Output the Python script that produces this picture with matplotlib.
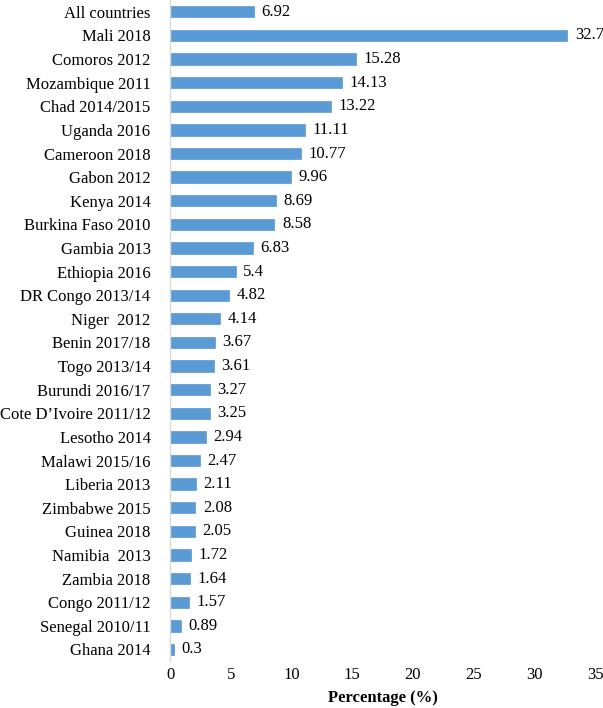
import matplotlib.pyplot as plt
import numpy as np

plt.rcParams['font.family'] = ['Liberation Serif', 'DejaVu Serif']

countries = ['All countries', 'Mali 2018', 'Comoros 2012', 'Mozambique 2011',
             'Chad 2014/2015', 'Uganda 2016', 'Cameroon 2018', 'Gabon 2012',
             'Kenya 2014', 'Burkina Faso 2010', 'Gambia 2013', 'Ethiopia 2016',
             'DR Congo 2013/14', 'Niger  2012', 'Benin 2017/18', 'Togo 2013/14',
             'Burundi 2016/17', 'Cote D\u2019Ivoire 2011/12', 'Lesotho 2014',
             'Malawi 2015/16', 'Liberia 2013', 'Zimbabwe 2015', 'Guinea 2018',
             'Namibia  2013', 'Zambia 2018', 'Congo 2011/12', 'Senegal 2010/11',
             'Ghana 2014']
values = [6.92, 32.7, 15.28, 14.13, 13.22, 11.11, 10.77, 9.96, 8.69, 8.58,
          6.83, 5.4, 4.82, 4.14, 3.67, 3.61, 3.27, 3.25, 2.94, 2.47, 2.11,
          2.08, 2.05, 1.72, 1.64, 1.57, 0.89, 0.3]
value_labels = ['6.92', '32.7', '15.28', '14.13', '13.22', '11.11', '10.77',
                '9.96', '8.69', '8.58', '6.83', '5.4', '4.82', '4.14', '3.67',
                '3.61', '3.27', '3.25', '2.94', '2.47', '2.11', '2.08', '2.05',
                '1.72', '1.64', '1.57', '0.89', '0.3']

fig = plt.figure(figsize=(6.03, 7.08), dpi=100)
ax = fig.add_axes([0.282, 0.066, 0.705, 0.934])

y = np.arange(len(countries))
ax.barh(y, values, height=0.48, color='#5B9BD5', edgecolor='#4A8BC8', linewidth=0.4)

for yi, v, lab in zip(y, values, value_labels):
    ax.annotate(lab, (v, yi), xytext=(5.5, 0), textcoords='offset points',
                va='center', ha='left', fontsize=12)

ax.set_ylim(len(countries) - 0.5, -0.5)
ax.set_xlim(0, 35)
ax.set_xticks(range(0, 36, 5))
ax.set_yticks(y)
ax.set_yticklabels(countries, fontsize=12)
ax.tick_params(axis='x', labelsize=12, length=0, pad=4)
ax.tick_params(axis='y', length=0, pad=14)

for s in ['top', 'right', 'bottom']:
    ax.spines[s].set_visible(False)
ax.spines['left'].set_color('#D9D9D9')
ax.spines['left'].set_linewidth(1.0)

ax.set_xlabel('Percentage (%)', fontsize=12, fontweight='bold', labelpad=5)

fig.savefig('out.png', dpi=100)
